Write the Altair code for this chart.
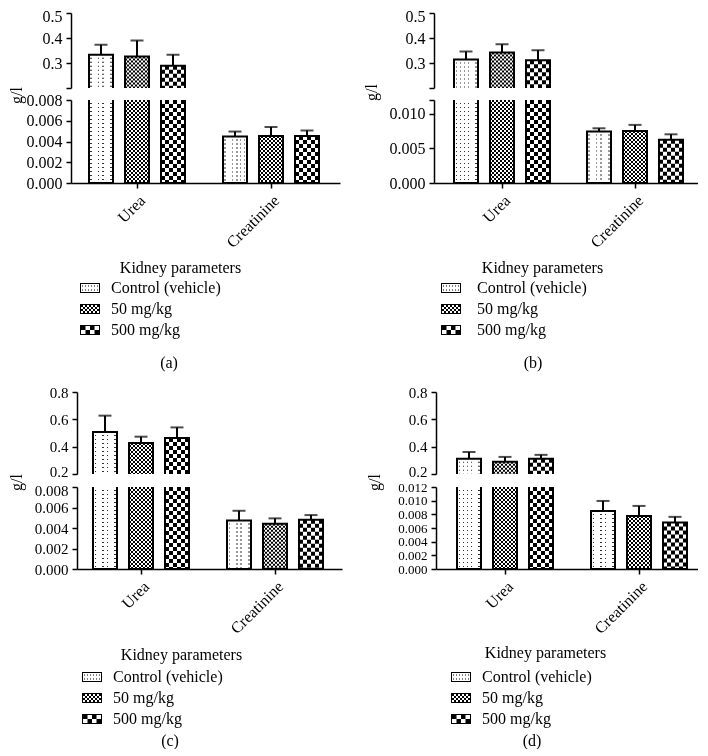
import json
import altair as alt
import pandas as pd

FONT = "Liberation Serif"

params = ["Urea", "Creatinine"]
doses = ["Control (vehicle)", "50 mg/kg", "500 mg/kg"]
captions = ["(a)", "(b)", "(c)", "(d)"]
x_title = "Kidney parameters"
y_title = "g/l"

# mean values and upper error per dose (Control, 50 mg/kg, 500 mg/kg)
a_urea = [0.333, 0.326, 0.289]
a_urea_err = [0.040, 0.064, 0.044]
a_creat = [0.00448, 0.00454, 0.00454]
a_creat_err = [0.00048, 0.00086, 0.00052]

b_urea = [0.3145, 0.342, 0.311]
b_urea_err = [0.0315, 0.033, 0.040]
b_creat = [0.00743, 0.00752, 0.00626]
b_creat_err = [0.00048, 0.00088, 0.00078]

c_urea = [0.507, 0.427, 0.463]
c_urea_err = [0.120, 0.046, 0.078]
c_creat = [0.00474, 0.00442, 0.00481]
c_creat_err = [0.00094, 0.00052, 0.00045]

d_urea = [0.311, 0.289, 0.311]
d_urea_err = [0.050, 0.036, 0.029]
d_creat = [0.0085, 0.00777, 0.0068]
d_creat_err = [0.00146, 0.00146, 0.00083]

# axis tick values (broken axis: upper and lower part)
ab_top_ticks = [0.2, 0.3, 0.4, 0.5]
cd_top_ticks = [0.2, 0.4, 0.6, 0.8]
a_bot_ticks = [0.0, 0.002, 0.004, 0.006, 0.008]
b_bot_ticks = [0.0, 0.005, 0.010, 0.012]
c_bot_ticks = [0.0, 0.002, 0.004, 0.006, 0.008]
d_bot_ticks = [0.0, 0.002, 0.004, 0.006, 0.008, 0.010, 0.012]
ab_top_hidden = [0.2]
b_bot_hidden = [0.012]


def frame(urea, urea_err, creat, creat_err):
    rows = []
    for p, vals, errs in (("Urea", urea, urea_err), ("Creatinine", creat, creat_err)):
        for d, v, e in zip(doses, vals, errs):
            rows.append({"param": p, "dose": d, "mean": v, "err": e})
    return pd.DataFrame(rows)


def stripe_gradient(periods, on0, on1, on_color, off_color):
    stops = []
    for i in range(periods):
        s, a, b, e = [(i + f) / periods for f in (0, on0, on1, 1)]
        stops += [(off_color, s), (off_color, a), (on_color, a),
                  (on_color, b), (off_color, b), (off_color, e)]
    return alt.LinearGradient(
        gradient="linear", x1=0, y1=0, x2=1, y2=0,
        stops=[alt.GradientStop(color=c, offset=round(o, 6)) for c, o in stops])


PAT = {
    doses[0]: dict(grad=stripe_gradient(6, 0.375, 0.625, "#333333", "white"), dash=[3, 1], blend=None),
    doses[1]: dict(grad=stripe_gradient(6, 0.0, 0.5, "black", "white"), dash=[2, 2], blend="difference"),
    doses[2]: dict(grad=stripe_gradient(3, 0.0, 0.5, "black", "white"), dash=[4, 4], blend="difference"),
}

FRAME = "M-1,-0.5H1V0.5H-1ZM-0.9,-0.4V0.4H0.9V-0.4Z"


def sq(x, y, w, h):
    return "M%.3f,%.3fh%.3fv%.3fh%.3fZ" % (x, y, w, h, -w)


def checker_path(nc, nr):
    w, h = 1.8 / nc, 0.8 / nr
    p = FRAME
    for i in range(nc):
        for j in range(nr):
            if (i + j) % 2 == 0:
                p += sq(-0.9 + i * w, -0.4 + j * h, w, h)
    return p


def dots_path():
    p = FRAME
    for i in range(6):
        for j in range(2):
            p += sq(-0.8 + i * 0.3, -0.25 + j * 0.4, 0.1, 0.1)
    return p


legend_paths = [dots_path(), checker_path(9, 4), checker_path(4, 2)]


def band(cfg):
    r0, r1 = cfg["xr"]
    step = cfg["step"]
    pI = 1 - 96.0 / step
    outer = (r1 - r0) - step * (2 - pI)
    pO = outer / (2 * step)
    al = (cfg["L1"] - r0) / outer
    return pI, pO, al


def sub(df, ticks, hidden, fmt, height, cfg, bottom):
    dmin, dmax = ticks[0], ticks[-1]
    pI, pO, al = band(cfg)
    xscale = alt.Scale(domain=params, range=cfg["xr"], paddingInner=pI,
                       paddingOuter=pO, align=al)
    if bottom:
        xaxis = alt.Axis(title=x_title, labelAngle=-45, labelAlign="right",
                         labelBaseline="top", titleX=cfg["kx"], titleY=cfg["ky"],
                         titleAlign="center", titleBaseline="middle")
    else:
        xaxis = None
    part = "bot" if bottom else "top"
    ykw = dict(values=ticks, format=fmt, offset=cfg["yoff"],
               labelFontSize=cfg[part + "_lfs"])
    # small vertical nudges of the labels at the break and at the very top
    shifts = []
    if bottom and cfg["bot_lo"]:
        shifts.append((ticks[-1], cfg["bot_lo"]))
    if not bottom and cfg["top_lo"]:
        shifts.append((ticks[0], cfg["top_lo"]))
    if not bottom and cfg["peak_lo"]:
        shifts.append((ticks[-1], cfg["peak_lo"]))
    if shifts:
        expr = "0"
        for v, s in shifts:
            expr = "datum.value == %r ? %r : (%s)" % (v, s, expr)
        ykw["labelOffset"] = alt.expr(expr)
    if hidden:
        ykw["labelExpr"] = "indexof(%s, datum.value) >= 0 ? '' : datum.label" % json.dumps(hidden)
    if bottom:
        ykw.update(title=y_title, titleX=cfg["glx"], titleY=cfg["gly"],
                   titleAlign="center", titleBaseline="middle")
    else:
        ykw["title"] = None
    yaxis = alt.Axis(**ykw)

    X = alt.X("param:N", scale=xscale, axis=xaxis)
    XO = alt.XOffset("dose:N", scale=alt.Scale(domain=doses, paddingInner=1 / 3, paddingOuter=0))

    def Y(field):
        return alt.Y(field + ":Q", scale=alt.Scale(domain=[dmin, dmax]), axis=yaxis)

    base = alt.Chart(df).transform_calculate(
        upper="datum.mean + datum.err",
        ytop="max(min(datum.mean, %r), %r)" % (dmax, dmin),
    )
    layers = []
    for d in doses:
        layers.append(base.transform_filter(alt.datum.dose == d)
                      .mark_bar(fill=PAT[d]["grad"], clip=True)
                      .encode(x=X, xOffset=XO, y=Y("mean"), y2=alt.datum(0)))
    for d in doses:
        mk = dict(color="white", strokeWidth=24, strokeDash=PAT[d]["dash"])
        if PAT[d]["blend"]:
            mk["blend"] = PAT[d]["blend"]
        layers.append(base.transform_filter(alt.datum.dose == d)
                      .mark_rule(**mk)
                      .encode(x=X, xOffset=XO, y=Y("ytop"), y2=alt.datum(dmin)))
    layers.append(base.mark_bar(fillOpacity=0, stroke="black", strokeWidth=2, clip=True)
                  .encode(x=X, xOffset=XO, y=Y("mean"), y2=alt.datum(0)))
    layers.append(base.mark_rule(color="black", strokeWidth=2, clip=True)
                  .encode(x=X, xOffset=XO, y=Y("mean"), y2=alt.Y2("upper:Q")))
    layers.append(base.mark_tick(color="black", thickness=2, size=13, clip=True)
                  .encode(x=X, xOffset=XO, y=Y("upper")))
    if bottom:
        legend = alt.Legend(title=None, orient="none", legendX=cfg["lx"], legendY=cfg["ly"],
                            symbolSize=400, symbolStrokeWidth=0, symbolOpacity=1,
                            symbolFillColor="black", labelFont=FONT, labelFontSize=16,
                            labelColor="black", labelOffset=cfg["loff"], rowPadding=3,
                            padding=0, direction="vertical")
        layers.append(base.mark_point(filled=True, color="black", opacity=0, clip=True)
                      .encode(x=X, xOffset=XO, y=Y("mean"),
                              shape=alt.Shape("dose:N", scale=alt.Scale(domain=doses, range=legend_paths),
                                              legend=legend)))
    return alt.layer(*layers).properties(width=cfg["width"], height=height)


def panel(cap, data, top_ticks, top_hidden, bot_ticks, bot_hidden, cfg):
    df = frame(*data)
    top = sub(df, top_ticks, top_hidden, ".1f", cfg["top_h"], cfg, False)
    bot = sub(df, bot_ticks, bot_hidden, ".3f", cfg["bot_h"], cfg, True)
    return alt.vconcat(
        top, bot, spacing=cfg["gap"], bounds="flush",
        title=alt.TitleParams(cap, orient="bottom", anchor="start", align="center",
                              dx=cfg["cdx"], offset=cfg["coff"], frame="group",
                              font=FONT, fontSize=16, fontWeight="normal", color="black"),
    ).resolve_scale(shape="independent")


cfg_a = dict(width=269, xr=[0, 269], L1=18, step=134, yoff=0, top_h=75, bot_h=83, gap=12,
             kx=109, ky=84, glx=-55, gly=-5, lx=9, ly=178, loff=11, cdx=98, coff=17,
             top_lfs=16, bot_lfs=16, top_lo=0, bot_lo=0, peak_lo=3)
cfg_b = dict(width=264, xr=[0, 264], L1=20, step=133, yoff=0, top_h=75, bot_h=83, gap=12,
             kx=108, ky=84, glx=-63, gly=-8, lx=7, ly=178, loff=16, cdx=99, coff=17,
             top_lfs=16, bot_lfs=16, top_lo=0, bot_lo=0, peak_lo=3)
cfg_c = dict(width=271, xr=[6, 271], L1=22, step=134, yoff=-6, top_h=82, bot_h=82, gap=13,
             kx=110, ky=85, glx=-61, gly=-5, lx=11, ly=180, loff=11, cdx=99, coff=6,
             top_lfs=15, bot_lfs=15, top_lo=-3, bot_lo=3, peak_lo=0)
cfg_d = dict(width=264, xr=[2, 264], L1=23, step=134, yoff=-2, top_h=82, bot_h=82, gap=13,
             kx=111, ky=83, glx=-62, gly=-5, lx=17, ly=180, loff=11, cdx=98, coff=6,
             top_lfs=15, bot_lfs=13, top_lo=-3, bot_lo=0, peak_lo=0)

pa = panel(captions[0], (a_urea, a_urea_err, a_creat, a_creat_err), ab_top_ticks, ab_top_hidden,
           a_bot_ticks, [], cfg_a)
pb = panel(captions[1], (b_urea, b_urea_err, b_creat, b_creat_err), ab_top_ticks, ab_top_hidden,
           b_bot_ticks, b_bot_hidden, cfg_b)
pc = panel(captions[2], (c_urea, c_urea_err, c_creat, c_creat_err), cd_top_ticks, [],
           c_bot_ticks, [], cfg_c)
pd_ = panel(captions[3], (d_urea, d_urea_err, d_creat, d_creat_err), cd_top_ticks, [],
            d_bot_ticks, [], cfg_d)

row1 = alt.hconcat(pa, pb, spacing=23).resolve_scale(shape="independent")
row2 = alt.hconcat(pc, pd_, spacing=24).resolve_scale(shape="independent")

chart = (
    alt.vconcat(row1, row2, spacing=14)
    .resolve_scale(shape="independent")
    .properties(padding={"left": 0, "top": 0, "right": 0, "bottom": 0}, background="white")
    .configure_view(strokeWidth=0)
    .configure_axis(domainColor="black", domainWidth=1.5, tickColor="black", tickWidth=1.5,
                    tickSize=5, labelFont=FONT, labelFontSize=16, labelColor="black",
                    labelPadding=4, labelOverlap=False, titleFont=FONT, titleFontSize=16,
                    titleFontWeight="normal", titleColor="black", grid=False)
)

chart.save("out.html", embed_options={"renderer": "svg", "actions": False})
